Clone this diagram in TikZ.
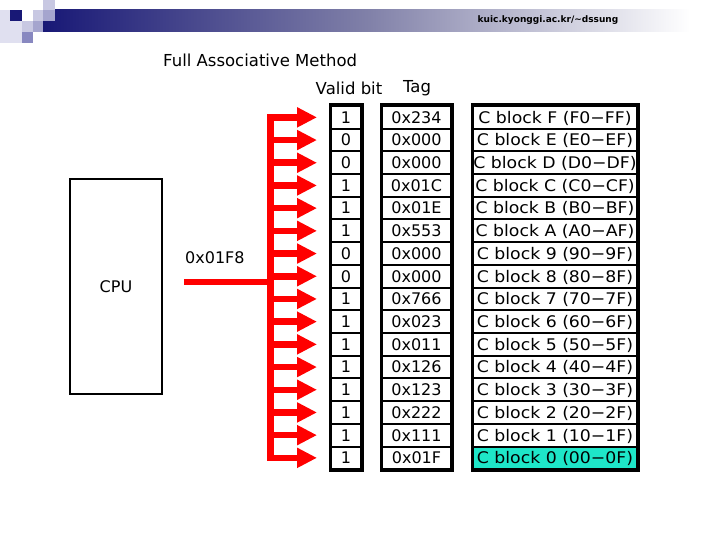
\documentclass[tikz,border=0pt]{standalone}
\usepackage{fontspec}
\setmainfont{DejaVu Sans}
\usetikzlibrary{arrows.meta}
\definecolor{navy}{RGB}{24,24,118}
\definecolor{midnavy}{RGB}{128,128,168}
\definecolor{cyanfill}{RGB}{30,230,200}
\definecolor{busred}{RGB}{255,0,0}
\definecolor{sqA}{RGB}{224,224,240}
\definecolor{sqB}{RGB}{200,200,226}
\definecolor{sqC}{RGB}{165,165,206}
\definecolor{sqD}{RGB}{136,136,192}
\begin{document}
\begin{tikzpicture}[x=1pt,y=-1pt,
  txt/.style={font=\fontsize{16}{19}\selectfont, inner sep=0pt},
  cell/.style={draw=black, line width=2pt, minimum height=22.7pt, inner sep=0pt,
    font=\fontsize{16}{19}\selectfont, text height=11.7pt, text depth=0pt},
  vcell/.style={cell, minimum width=30pt},
  tcell/.style={cell, minimum width=69pt},
  ccell/.style={cell, minimum width=164pt},
  busline/.style={draw=busred, line width=6.5pt},
  busarrow/.style={busline, -{Triangle[length=20pt,width=19pt]}, shorten >=13pt},
  outer/.style={draw=black, line width=3pt}]
\useasboundingbox (0,0) rectangle (720,540);
% header band
\shade[left color=navy, right color=white, middle color=midnavy] (43,10) rectangle (690,32);
\fill[sqB] (43,0) rectangle (55,10);
\fill[sqA] (0,10) rectangle (10,21);
\fill[navy] (10,10) rectangle (22,21);
\fill[white] (22,10) rectangle (33,21);
\fill[sqB] (33,10) rectangle (43,21);
\fill[sqC] (43,10) rectangle (55,21);
\fill[sqA] (0,21) rectangle (22,43);
\fill[sqB] (22,21) rectangle (33,32);
\fill[sqC] (33,21) rectangle (43,32);
\fill[sqD] (22,32) rectangle (33,43);
\node[font=\fontsize{9}{11}\selectfont\bfseries, inner sep=0pt] (url) at (548,20) {kuic.kyonggi.ac.kr/\char`\~dssung};
% titles
\node[txt, anchor=west, font=\fontsize{16.5}{19}\selectfont] (title) at (163,60) {Full Associative Method};
\node[txt, font=\fontsize{16.5}{19}\selectfont] (vlabel) at (349,88) {Valid bit};
\node[txt, font=\fontsize{16.5}{19}\selectfont] (tlabel) at (417,88) {Tag};
% CPU
\node[draw=black, line width=2.5pt, minimum width=92pt, minimum height=215pt, txt] (cpu) at (116,286.5) {CPU};
\node[txt, anchor=west] (addr) at (185,258) {0x01F8};
% table
\foreach \i/\v/\t/\c in {1/1/0x234/F (F0−FF), 2/0/0x000/E (E0−EF), 3/0/0x000/D (D0−DF),
  4/1/0x01C/C (C0−CF), 5/1/0x01E/B (B0−BF), 6/1/0x553/A (A0−AF), 7/0/0x000/9 (90−9F),
  8/0/0x000/8 (80−8F), 9/1/0x766/7 (70−7F), 10/1/0x023/6 (60−6F), 11/1/0x011/5 (50−5F),
  12/1/0x126/4 (40−4F), 13/1/0x123/3 (30−3F), 14/1/0x222/2 (20−2F), 15/1/0x111/1 (10−1F),
  16/1/0x01F/0 (00−0F)}{
  \pgfmathsetmacro{\yc}{106+22.7*(\i-0.5)}
  \node[vcell] (v\i) at (346,\yc) {\v};
  \node[tcell] (t\i) at (416.5,\yc) {\t};
  \ifnum\i=16
    \node[ccell, fill=cyanfill] (c\i) at (555,\yc) {\scalebox{1.08}[1]{C block \c}};
  \else
    \node[ccell] (c\i) at (555,\yc) {\scalebox{1.08}[1]{C block \c}};
  \fi
  \coordinate (b\i) at (267,\yc);
  \draw[busarrow] (b\i) -- (v\i.west);
}
\draw[outer] (v1.north west) rectangle (v16.south east);
\draw[outer] (t1.north west) rectangle (t16.south east);
\draw[outer] (c1.north west) rectangle (c16.south east);
% bus
\coordinate (bt) at (270.25,117.35);
\coordinate (bb) at (270.25,457.85);
\coordinate (feed) at (184,282);
\coordinate (join) at (270.25,282);
\draw[busline] (bt) -- (bb);
\draw[busline] (feed) -- (join);
\end{tikzpicture}
\end{document}
